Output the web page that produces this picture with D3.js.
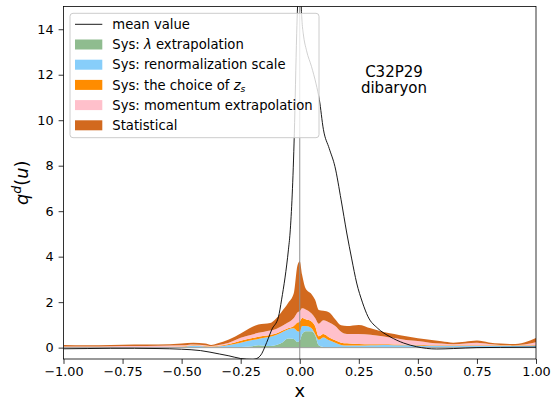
<!DOCTYPE html>
<html>
<head>
<meta charset="utf-8">
<script src="https://cdn.jsdelivr.net/npm/d3@7"></script>
<style>
  body { margin: 0; background: #fff; }
  svg { display: block; font-family: "DejaVu Sans", sans-serif; }
</style>
</head>
<body>
<svg id="chart" width="557" height="400"></svg>
<script>
// x grid of the error bands
const bandX = [-1, -0.9, -0.8, -0.7, -0.6, -0.5, -0.45, -0.4, -0.375, -0.35, -0.3, -0.25, -0.2, -0.175, -0.15,
  -0.125, -0.1, -0.075, -0.05, -0.025, -0.01, 0, 0.01, 0.025, 0.05, 0.065, 0.08, 0.1, 0.125, 0.15, 0.175,
  0.2, 0.25, 0.3, 0.35, 0.4, 0.45, 0.5, 0.55, 0.6, 0.65, 0.7, 0.75, 0.8, 0.85, 0.9, 0.95, 1.0];
// thickness of each error source (stacked from 0)
const lamSys = [0, 0, 0, 0, 0, 0, .01, .01, .01, .01, .02, .03, .06, .10, .08,
  .07, .12, .22, .40, .38, .25, .30, .60, .72, .72, .55, .10, .03, .02, .02, .02,
  .02, .02, .02, .02, .02, .02, .02, .02, .02, .02, .02, .02, .02, .02, .02, .02, .02];
const renSys = [.01, .01, .01, .01, .02, .03, .07, .04, .02, .04, .10, .19, .27, .28, .35,
  .41, .43, .46, .40, .47, .47, .40, .35, .23, .13, .05, .25, .42, .30, .20, .10,
  .07, .07, .08, .10, .09, .08, .07, .06, .06, .06, .06, .06, .06, .06, .06, .06, .07];
const zsSys = [.01, .01, .01, .01, .01, .02, .02, .02, .02, .02, .04, .08, .09, .10, .09,
  .08, .07, .06, .05, .10, .38, .45, .35, .30, .30, .35, .15, .15, .13, .10, .10,
  .10, .07, .05, .03, .03, .03, .03, .03, .02, .02, .02, .02, .02, .02, .02, .02, .03];
const momSys = [.03, .03, .04, .05, .05, .05, .04, .04, .02, .03, .06, .13, .16, .17, .18,
  .19, .20, .21, .25, .35, .45, .45, .43, .43, .35, .35, .55, .60, .65, .63, .48,
  .41, .44, .42, .35, .28, .20, .17, .11, .08, .05, .08, .11, .06, .02, .01, .04, .12];
const statErr = [.07, .05, .06, .07, .06, .08, .08, .07, .05, .08, .14, .19, .34, .37, .35,
  .33, .46, .65, .85, 1.10, 2.05, 2.20, 1.47, .92, .85, .80, .61, .42, .45, .30, .28,
  .35, .40, .28, .20, .18, .17, .12, .13, .10, .07, .08, .10, .07, .06, .05, .09, .18];

// mean value curve
const meanX = [-1, -0.9, -0.8, -0.7, -0.6, -0.5, -0.42, -0.34, -0.3, -0.25, -0.2, -0.177, -0.16, -0.147,
  -0.133, -0.119, -0.09, -0.077, -0.048, -0.041, -0.023, -0.013, -0.005, 0, 0.005, 0.01, 0.015, 0.029,
  0.05, 0.069, 0.083, 0.1, 0.125, 0.149, 0.175, 0.199, 0.22, 0.241, 0.265, 0.289, 0.33, 0.382, 0.44,
  0.495, 0.58, 0.65, 0.75, 0.85, 1.0];
const meanY = [-0.05, -0.04, -0.03, -0.03, -0.04, -0.07, -0.13, -0.28, -0.36, -0.48, -0.52, -0.45, -0.25, 0.05,
  0.41, 0.78, 1.36, 2.1, 4.3, 5.04, 9.4, 13.8, 16.5, 19, 15.5, 14.3, 13.8, 13.05,
  12.35, 11.6, 10.9, 9.6, 8.75, 7.96, 6.5, 5.04, 3.9, 2.84, 2.0, 1.36, 0.85, 0.48, 0.2,
  0.04, -0.06, -0.04, 0.0, 0.01, 0.02];

const xTicks = [-1, -0.75, -0.5, -0.25, 0, 0.25, 0.5, 0.75, 1];
const yTicks = [0, 2, 4, 6, 8, 10, 12, 14];
const bandKeys = ['lam', 'ren', 'zs', 'mom', 'stat'];
const bandColors = ['#8fbc8f', '#87cefa', '#ff8c00', '#ffc0cb', '#d2691e'];
const annotLines = ['C32P29', 'dibaryon'];

// Frame setup
const svg = d3.select('#chart');
const pLeft = 63.5, pRight = 536, pTop = 6.5, pBottom = 359;
const x = d3.scaleLinear().domain([-1, 1]).range([pLeft, pRight]);
const y = d3.scaleLinear().domain([-0.5, 15]).range([pBottom, pTop]);

svg.append('clipPath').attr('id', 'plotclip')
  .append('rect').attr('x', pLeft).attr('y', pTop).attr('width', pRight - pLeft).attr('height', pBottom - pTop);

const plot = svg.append('g').attr('clip-path', 'url(#plotclip)');

// stacked error bands
const rows = bandX.map((v, i) => ({
  x: v, lam: lamSys[i], ren: renSys[i], zs: zsSys[i], mom: momSys[i], stat: statErr[i]
}));
const stacked = d3.stack().keys(bandKeys)(rows);
const area = d3.area()
  .x(d => x(d.data.x))
  .y0(d => y(d[0]))
  .y1(d => y(d[1]))
  .curve(d3.curveMonotoneX);
plot.selectAll('path.band')
  .data(stacked)
  .enter().append('path')
  .attr('class', 'band')
  .attr('d', area)
  .attr('fill', (d, i) => bandColors[i]);

// reference lines
plot.append('line')
  .attr('x1', pLeft).attr('x2', pRight).attr('y1', y(0)).attr('y2', y(0))
  .attr('stroke', '#a0a0a0').attr('stroke-width', 1);
plot.append('line')
  .attr('x1', x(0)).attr('x2', x(0)).attr('y1', pTop).attr('y2', pBottom)
  .attr('stroke', '#909090').attr('stroke-width', 1);

// mean value
const meanLine = d3.line()
  .x(d => x(d[0]))
  .y(d => y(d[1]))
  .curve(d3.curveMonotoneX);
plot.append('path')
  .datum(meanX.map((v, i) => [v, meanY[i]]))
  .attr('d', meanLine)
  .attr('fill', 'none')
  .attr('stroke', '#000')
  .attr('stroke-width', 0.9);

// axes
const xAxis = svg.append('g')
  .attr('transform', `translate(0,${pBottom})`)
  .call(d3.axisBottom(x).tickValues(xTicks).tickFormat(d3.format('.2f'))
    .tickSize(4.9).tickPadding(3.5).tickSizeOuter(0));
const yAxis = svg.append('g')
  .attr('transform', `translate(${pLeft},0)`)
  .call(d3.axisLeft(y).tickValues(yTicks).tickFormat(d3.format('d'))
    .tickSize(4.9).tickPadding(5).tickSizeOuter(0));
[xAxis, yAxis].forEach(a => {
  a.attr('font-family', '"DejaVu Sans", sans-serif').attr('font-size', 12.8);
  a.select('.domain').remove();
  a.selectAll('.tick line').attr('stroke-width', 0.8);
  a.selectAll('.tick text').attr('fill', '#000');
});

svg.append('rect')
  .attr('x', pLeft).attr('y', pTop).attr('width', pRight - pLeft).attr('height', pBottom - pTop)
  .attr('fill', 'none').attr('stroke', '#000').attr('stroke-width', 0.8);

// axis labels
svg.append('text')
  .attr('x', x(0)).attr('y', 397)
  .attr('text-anchor', 'middle').attr('font-size', 17.8)
  .text('x');
const yl = svg.append('text')
  .attr('transform', `translate(28,${(pTop + pBottom) / 2}) rotate(-90)`)
  .attr('text-anchor', 'middle').attr('font-size', 17.8);
yl.append('tspan').attr('font-style', 'italic').text('q');
yl.append('tspan').attr('font-style', 'italic').attr('font-size', 12.5).attr('dy', -7).text('d');
yl.append('tspan').attr('dy', 7).text('(');
yl.append('tspan').attr('font-style', 'italic').text('u');
yl.append('tspan').text(')');

// annotation
svg.append('text')
  .attr('text-anchor', 'middle').attr('font-size', 15)
  .selectAll('tspan')
  .data(annotLines)
  .enter().append('tspan')
  .attr('x', 394)
  .attr('y', (d, i) => 76.5 + i * 16.5)
  .text(d => d);

// legend
const leg = svg.append('g');
leg.append('rect')
  .attr('x', 70).attr('y', 13.3).attr('width', 249).attr('height', 124.4)
  .attr('rx', 3).attr('fill', '#fff').attr('fill-opacity', 0.8)
  .attr('stroke', '#cccccc').attr('stroke-width', 1);
const rowY = i => 24.3 + i * 20.2;
leg.append('line')
  .attr('x1', 75).attr('x2', 102.3).attr('y1', rowY(0)).attr('y2', rowY(0))
  .attr('stroke', '#000').attr('stroke-width', 0.9);
bandColors.forEach((c, i) => {
  leg.append('rect')
    .attr('x', 75).attr('y', rowY(i + 1) - 5).attr('width', 27.3).attr('height', 10)
    .attr('fill', c);
});
const legText = (i) => leg.append('text')
  .attr('x', 112.3).attr('y', rowY(i) + 4.7).attr('font-size', 13.2);
legText(0).text('mean value');
const t1 = legText(1);
t1.append('tspan').text('Sys: ');
t1.append('tspan').attr('font-style', 'italic').text('λ');
t1.append('tspan').text(' extrapolation');
legText(2).text('Sys: renormalization scale');
const t3 = legText(3);
t3.append('tspan').text('Sys: the choice of ');
t3.append('tspan').attr('font-style', 'italic').text('z');
t3.append('tspan').attr('font-style', 'italic').attr('font-size', 9.2).attr('dy', 2.5).text('s');
legText(4).text('Sys: momentum extrapolation');
legText(5).text('Statistical');
</script>
</body>
</html>
